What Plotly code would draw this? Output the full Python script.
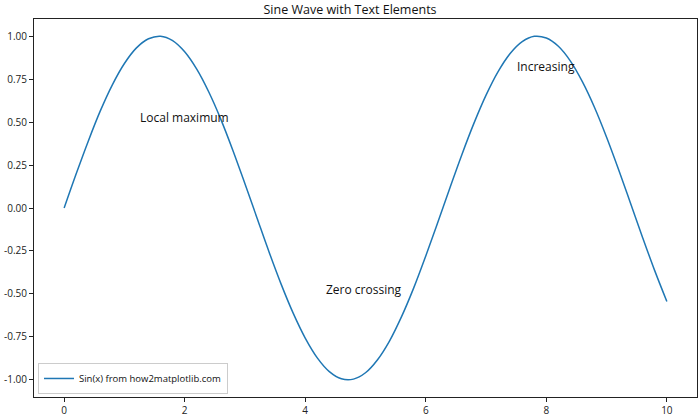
import plotly.graph_objects as go

x_vals = [0, 0.2, 0.4, 0.6, 0.8, 1.0, 1.2, 1.4, 1.6, 1.8, 2.0, 2.2, 2.4, 2.6, 2.8, 3.0,
          3.2, 3.4, 3.6, 3.8, 4.0, 4.2, 4.4, 4.6, 4.8, 5.0, 5.2, 5.4, 5.6, 5.8, 6.0,
          6.2, 6.4, 6.6, 6.8, 7.0, 7.2, 7.4, 7.6, 7.8, 8.0, 8.2, 8.4, 8.6, 8.8, 9.0,
          9.2, 9.4, 9.6, 9.8, 10.0]
y_vals = [0.0, 0.199, 0.389, 0.565, 0.717, 0.841, 0.932, 0.985, 1.000, 0.974, 0.909,
          0.808, 0.675, 0.516, 0.335, 0.141, -0.058, -0.256, -0.443, -0.612, -0.757,
          -0.872, -0.952, -0.994, -0.996, -0.959, -0.883, -0.773, -0.631, -0.465, -0.279,
          -0.083, 0.117, 0.312, 0.494, 0.657, 0.794, 0.899, 0.968, 0.999, 0.989,
          0.941, 0.855, 0.734, 0.585, 0.412, 0.223, 0.025, -0.174, -0.366, -0.544]

ann_text = ["Local maximum", "Zero crossing", "Increasing"]
ann_x = [1.29, 4.38, 7.54]
ann_y = [0.5, -0.5, 0.8]

x_ticks = [0, 2, 4, 6, 8, 10]
y_ticks = [1.0, 0.75, 0.5, 0.25, 0.0, -0.25, -0.5, -0.75, -1.0]
y_tick_labels = ["1.00", "0.75", "0.50", "0.25", "0.00", "-0.25", "-0.50", "-0.75", "-1.00"]

font_family = "Open Sans, DejaVu Sans, sans-serif"

fig = go.Figure()
fig.add_trace(go.Scatter(
    x=x_vals, y=y_vals, mode="lines", name="Sin(x) from how2matplotlib.com",
    line=dict(color="#1f77b4", width=1.5, shape="spline", smoothing=1.0),
))

for t, ax_, ay_ in zip(ann_text, ann_x, ann_y):
    fig.add_annotation(x=ax_, y=ay_, text=t, showarrow=False, xanchor="left",
                       yanchor="bottom", yshift=-6, xshift=-4,
                       font=dict(size=12, color="#111111", family=font_family))

axis_common = dict(showgrid=False, zeroline=False, showline=True, linecolor="#222222",
                   linewidth=1, mirror=True, ticks="outside", ticklen=4, tickwidth=1,
                   tickcolor="#222222", tickfont=dict(size=10, color="#222222", family=font_family))

fig.update_layout(
    width=700, height=420,
    margin=dict(l=34, r=3, t=19, b=23),
    paper_bgcolor="white", plot_bgcolor="white",
    title=dict(text="Sine Wave with Text Elements", x=0.5, xanchor="center",
               y=1 - 9.5 / 420, yanchor="middle",
               font=dict(size=12.5, color="#111111", family=font_family)),
    xaxis=dict(range=[-0.5, 10.5], tickvals=x_ticks, **axis_common),
    yaxis=dict(range=[-1.1, 1.1], tickvals=y_ticks, ticktext=y_tick_labels, **axis_common),
    showlegend=True,
    legend=dict(x=0.006, y=0.008, xanchor="left", yanchor="bottom",
                bgcolor="rgba(255,255,255,0.8)", bordercolor="#cccccc", borderwidth=1,
                font=dict(size=9.5, color="#111111", family=font_family),
                itemwidth=30, tracegroupgap=0),
)

fig.write_html("out.html")
